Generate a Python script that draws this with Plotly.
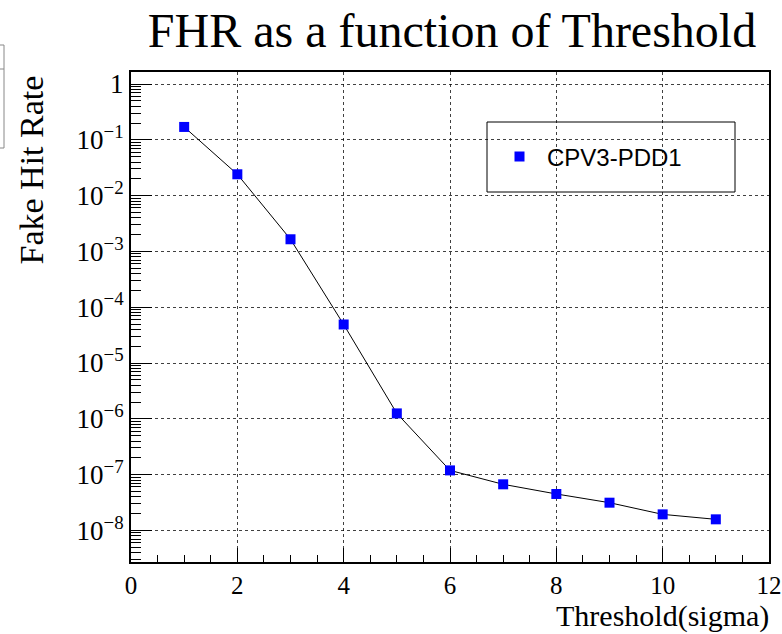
import plotly.graph_objects as go

# ---- data ----
threshold = [1, 2, 3, 4, 5, 6, 7, 8, 9, 10, 11]
fake_hit_rate = [0.17, 0.0241, 1.65e-3, 4.9e-5, 1.25e-6, 1.19e-7, 6.7e-8, 4.5e-8, 3.14e-8, 1.94e-8, 1.58e-8]
series_name = "CPV3-PDD1"
title_text = "FHR as a function of Threshold"
x_title = "Threshold(sigma)"
y_title = "Fake Hit Rate"
x_ticks = [0, 2, 4, 6, 8, 10, 12]
y_tick_exponents = [0, -1, -2, -3, -4, -5, -6, -7, -8]
y_tick_vals = [10.0 ** e for e in y_tick_exponents]
y_tick_text = ["1" if e == 0 else "10<sup>\u2212%d</sup>" % (-e) for e in y_tick_exponents]

SERIF = "Liberation Serif"
SANS = "Liberation Sans"

# layout geometry (pixels)
W, H = 782, 634
L, R, T, B = 131, 13, 72, 72
PW, PH = W - L - R, H - T - B


def px_x(p):
    return (p - L) / PW


def px_y(p):
    return (H - B - p) / PH


minor_y = [m * 10.0 ** e for e in range(-9, 1) for m in range(2, 10)]

fig = go.Figure()
fig.add_trace(go.Scatter(
    x=threshold, y=fake_hit_rate, mode="lines", showlegend=False, hoverinfo="skip",
    line=dict(color="black", width=1),
))
fig.add_trace(go.Scatter(
    x=threshold, y=fake_hit_rate, mode="markers", name=series_name,
    marker=dict(symbol="square", size=10, color="#0000ff", line=dict(width=0)),
))

fig.update_layout(
    width=W, height=H,
    margin=dict(l=L, r=R, t=T, b=B, pad=0, autoexpand=False),
    paper_bgcolor="white", plot_bgcolor="white",
    title=dict(text=title_text, font=dict(family=SERIF, size=48, color="black"),
               x=452 / W, xref="container", xanchor="center",
               y=1 - 30 / H, yref="container", yanchor="middle", automargin=False),
    showlegend=True,
    legend=dict(x=px_x(492), y=px_y(157), xanchor="left", yanchor="middle",
                bgcolor="rgba(0,0,0,0)", borderwidth=0, itemwidth=45,
                font=dict(family=SANS, size=24, color="black")),
    xaxis=dict(
        range=[-0.0001, 12.0001], tickvals=x_ticks, ticks="inside", ticklen=14, tickwidth=1,
        tickcolor="black", showline=True, linecolor="black", linewidth=1.5, mirror=True,
        showgrid=True, gridcolor="rgba(0,0,0,0.75)", griddash="dot", gridwidth=1,
        zeroline=False, automargin=False,
        tickfont=dict(family=SERIF, size=25, color="black"),
        minor=dict(dtick=0.5, tick0=0, ticks="inside", ticklen=7, tickcolor="black", showgrid=False),
    ),
    yaxis=dict(
        type="log", range=[-8.566, 0.215], automargin=False,
        tickmode="array", tickvals=y_tick_vals, ticktext=y_tick_text,
        ticks="inside", ticklen=21, tickwidth=1, tickcolor="black",
        showline=True, linecolor="black", linewidth=2, mirror=True,
        showgrid=True, gridcolor="rgba(0,0,0,0.75)", griddash="dot", gridwidth=1,
        zeroline=False,
        tickfont=dict(family=SERIF, size=27, color="black"),
        minor=dict(tickmode="array", tickvals=minor_y, ticks="inside", ticklen=10,
                   tickcolor="black", showgrid=False),
    ),
    annotations=[
        dict(text=y_title, textangle=-90, xref="paper", yref="paper",
             x=px_x(31), y=px_y(73), xanchor="center", yanchor="top", showarrow=False,
             font=dict(family=SERIF, size=34, color="black")),
        dict(text=x_title, xref="paper", yref="paper",
             x=px_x(771), y=px_y(616), xanchor="right", yanchor="middle", showarrow=False,
             font=dict(family=SERIF, size=30, color="black")),
    ],
    shapes=[
        # legend frame
        dict(type="rect", xref="paper", yref="paper", x0=px_x(487), x1=px_x(735),
             y0=px_y(192), y1=px_y(122), line=dict(color="black", width=1)),
        # partially visible box at top-left edge
        dict(type="rect", xref="paper", yref="paper", x0=px_x(-3), x1=px_x(4),
             y0=px_y(148), y1=px_y(45), line=dict(color="#888888", width=1)),
        dict(type="line", xref="paper", yref="paper", x0=px_x(-3), x1=px_x(4),
             y0=px_y(69), y1=px_y(69), line=dict(color="#888888", width=1)),
    ],
)

fig.write_html("out.html")
